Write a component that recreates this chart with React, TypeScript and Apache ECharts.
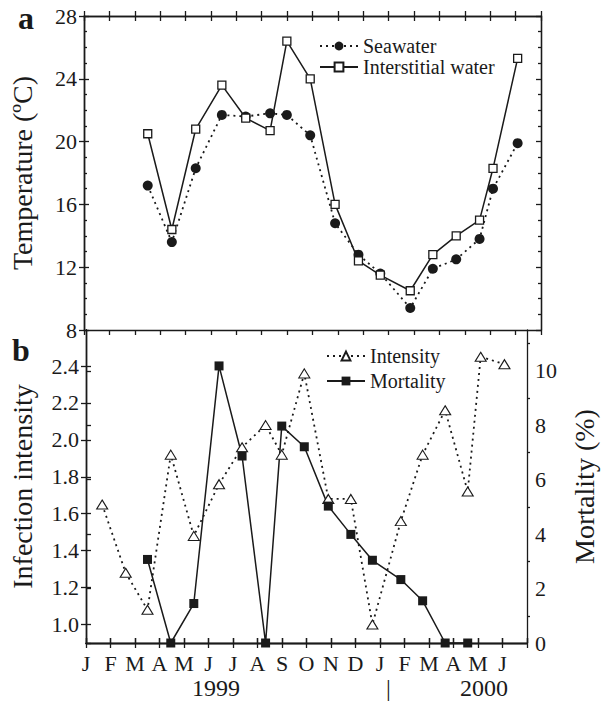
import React, { useEffect, useRef } from "react";
import * as echarts from "echarts";

const MONTHS = ["J", "F", "M", "A", "M", "J", "J", "A", "S", "O", "N", "D", "J", "F", "M", "A", "M", "J"];
const MONTH_TICKS = [0, 1, 2, 3, 4, 5, 6, 7, 8, 9, 10, 11, 12, 13, 14, 15, 16, 17, 18];
const MONTH_LABEL_POS = [0, 1, 2, 3, 4, 5, 6, 7, 8, 9, 10, 11, 12, 13, 14, 15, 16, 17];

// sampling dates in months since 1 Jan 1999
const TEMP_T = [2.51, 3.46, 4.4, 5.43, 6.37, 7.33, 7.99, 8.91, 9.89, 10.81, 11.67, 12.85, 13.74, 14.66, 15.58, 16.11, 17.08];
const SEAWATER = [17.2, 13.6, 18.3, 21.7, 21.6, 21.8, 21.7, 20.4, 14.8, 12.8, 11.6, 9.4, 11.9, 12.5, 13.8, 17.0, 19.9];
const INTERSTITIAL = [20.5, 14.4, 20.8, 23.6, 21.5, 20.7, 26.4, 24.0, 16.0, 12.4, 11.5, 10.5, 12.8, 14.0, 15.0, 18.3, 25.3];

const INTENSITY_T = [0.66, 1.62, 2.51, 3.46, 4.4, 5.43, 6.37, 7.33, 7.99, 8.91, 9.89, 10.81, 11.69, 12.85, 13.74, 14.66, 15.58, 16.11, 17.08];
const INTENSITY = [1.65, 1.28, 1.08, 1.92, 1.48, 1.76, 1.96, 2.08, 1.92, 2.36, 1.68, 1.68, 1.0, 1.56, 1.92, 2.16, 1.72, 2.45, 2.41];

const MORTALITY_T = [2.51, 3.46, 4.4, 5.43, 6.37, 7.33, 7.99, 8.91, 9.89, 10.81, 11.69, 12.85, 13.74, 14.66, 15.58];
const MORTALITY = [3.07, 0, 1.45, 10.18, 6.87, 0, 7.97, 7.21, 5.03, 3.99, 3.04, 2.33, 1.55, 0, 0];

const TEMP_MAJOR = [8, 12, 16, 20, 24, 28];
const TEMP_MINOR = [9, 10, 11, 13, 14, 15, 17, 18, 19, 21, 22, 23, 25, 26, 27];
const INT_MAJOR = [1.0, 1.2, 1.4, 1.6, 1.8, 2.0, 2.2, 2.4];
const MORT_MAJOR = [0, 2, 4, 6, 8, 10];
const MORT_MINOR = [1, 3, 5, 7, 9, 11];

const FONT = "Liberation Serif";
const INK = "#1a1a1a";

export default function App() {
  const ref = useRef<HTMLDivElement>(null);
  useEffect(() => {
    document.body.style.margin = "0";
    const chart = echarts.init(ref.current!, null, { renderer: "svg" });
    const line = { show: true, lineStyle: { color: INK, width: 1.3 } };
    const noLabel = { show: false };
    const noSplit = { show: false };
    const xBase = (grid: number, position: string, inside: boolean, extra: any = {}) => ({
      type: "value",
      gridIndex: grid,
      position,
      min: 0,
      max: 18,
      axisLine: line,
      axisTick: { show: true, inside, length: 5, customValues: MONTH_TICKS, lineStyle: { color: INK, width: 1.3 } },
      axisLabel: noLabel,
      splitLine: noSplit,
      ...extra,
    });
    const yBase = (grid: number, position: string, min: number, max: number, ticks: number[], inside: boolean, len: number, extra: any = {}) => ({
      type: "value",
      gridIndex: grid,
      position,
      min,
      max,
      axisLine: line,
      axisTick: { show: true, inside, length: len, customValues: ticks, lineStyle: { color: INK, width: 1.3 } },
      axisLabel: noLabel,
      splitLine: noSplit,
      ...extra,
    });
    const tickLabel = { fontFamily: FONT, fontSize: 22, color: INK };
    const titleStyle = { fontFamily: FONT, fontSize: 28, color: INK };

    chart.setOption({
      animation: false,
      backgroundColor: "#fff",
      textStyle: { fontFamily: FONT },
      grid: [
        { left: 84, top: 16, width: 457, height: 314 },
        { left: 84, top: 330, width: 457, height: 313 },
      ],
      xAxis: [
        xBase(0, "bottom", false),
        xBase(0, "top", false),
        xBase(0, "top", true),
        xBase(1, "top", false),
        xBase(1, "bottom", false, {
          axisLabel: {
            show: true,
            customValues: MONTH_LABEL_POS,
            formatter: (v: number) => MONTHS[Math.round(v)] ?? "",
            fontFamily: FONT,
            fontSize: 22,
            color: INK,
            margin: 9,
          },
        }),
        xBase(1, "bottom", true),
      ],
      yAxis: [
        yBase(0, "left", 8, 28, TEMP_MAJOR, false, 5, {
          axisLabel: { show: true, customValues: TEMP_MAJOR, margin: 7, ...tickLabel },
          name: "Temperature (ºC)",
          nameLocation: "middle",
          nameRotate: 90,
          nameGap: 48,
          nameTextStyle: titleStyle,
        }),
        yBase(0, "left", 8, 28, TEMP_MAJOR, true, 5),
        yBase(0, "left", 8, 28, TEMP_MINOR, true, 3),
        yBase(0, "right", 8, 28, TEMP_MAJOR, true, 5),
        yBase(0, "right", 8, 28, TEMP_MINOR, true, 3),
        yBase(1, "left", 0.9, 2.595, INT_MAJOR, false, 5, {
          axisLabel: {
            show: true,
            customValues: INT_MAJOR,
            formatter: (v: number) => v.toFixed(1),
            margin: 7,
            ...tickLabel,
          },
          name: "Infection intensity",
          nameLocation: "middle",
          nameRotate: 90,
          nameGap: 50,
          nameTextStyle: titleStyle,
        }),
        yBase(1, "left", 0.9, 2.595, INT_MAJOR, true, 5),
        yBase(1, "right", 0, 11.5, MORT_MAJOR, false, 5, {
          axisLabel: { show: true, customValues: MORT_MAJOR, margin: 8, ...tickLabel },
          name: "Mortality (%)",
          nameLocation: "middle",
          nameRotate: 90,
          nameGap: 43,
          nameTextStyle: titleStyle,
        }),
        yBase(1, "right", 0, 11.5, MORT_MINOR, false, 3),
      ],
      legend: [
        {
          data: ["Seawater", "Interstitial water"],
          orient: "vertical",
          left: 314,
          top: 31,
          itemWidth: 38,
          itemHeight: 11,
          itemGap: 1,
          textStyle: { fontFamily: FONT, fontSize: 20, color: INK, lineHeight: 19 },
          selectedMode: false,
        },
        {
          data: ["Intensity", "Mortality"],
          orient: "vertical",
          left: 321,
          top: 341,
          itemWidth: 38,
          itemHeight: 11,
          itemGap: 5,
          textStyle: { fontFamily: FONT, fontSize: 20, color: INK, lineHeight: 20 },
          selectedMode: false,
        },
      ],
      graphic: [
        { type: "text", left: 18, top: 2, style: { text: "a", font: `bold 32px ${FONT}`, fill: INK } },
        { type: "text", left: 12, top: 334, style: { text: "b", font: `bold 32px ${FONT}`, fill: INK } },
        { type: "text", left: 192, top: 676, style: { text: "1999", font: `24px ${FONT}`, fill: INK } },
        { type: "text", left: 386, top: 676, style: { text: "|", font: `24px ${FONT}`, fill: INK } },
        { type: "text", left: 460, top: 676, style: { text: "2000", font: `24px ${FONT}`, fill: INK } },
      ],
      series: [
        {
          name: "Seawater",
          type: "line",
          xAxisIndex: 0,
          yAxisIndex: 0,
          data: TEMP_T.map((t, i) => [t, SEAWATER[i]]),
          symbol: "circle",
          symbolSize: 10,
          itemStyle: { color: INK },
          lineStyle: { color: INK, width: 1.8, type: [2, 4] },
          clip: false,
        },
        {
          name: "Interstitial water",
          type: "line",
          xAxisIndex: 0,
          yAxisIndex: 0,
          data: TEMP_T.map((t, i) => [t, INTERSTITIAL[i]]),
          symbol: "rect",
          symbolSize: 8,
          itemStyle: { color: "#fff", borderColor: INK, borderWidth: 1.3 },
          lineStyle: { color: INK, width: 1.5 },
          clip: false,
        },
        {
          name: "Intensity",
          type: "line",
          xAxisIndex: 4,
          yAxisIndex: 5,
          data: INTENSITY_T.map((t, i) => [t, INTENSITY[i]]),
          symbol: "triangle",
          symbolSize: [11, 9],
          itemStyle: { color: "#fff", borderColor: INK, borderWidth: 1.1 },
          lineStyle: { color: INK, width: 1.8, type: [2, 4] },
          clip: false,
        },
        {
          name: "Mortality",
          type: "line",
          xAxisIndex: 4,
          yAxisIndex: 7,
          data: MORTALITY_T.map((t, i) => [t, MORTALITY[i]]),
          symbol: "rect",
          symbolSize: 9,
          itemStyle: { color: INK },
          lineStyle: { color: INK, width: 1.5 },
          clip: false,
        },
      ],
    });
    return () => chart.dispose();
  }, []);
  return <div ref={ref} style={{ position: "fixed", left: 0, top: 0, width: 606, height: 711 }} />;
}
